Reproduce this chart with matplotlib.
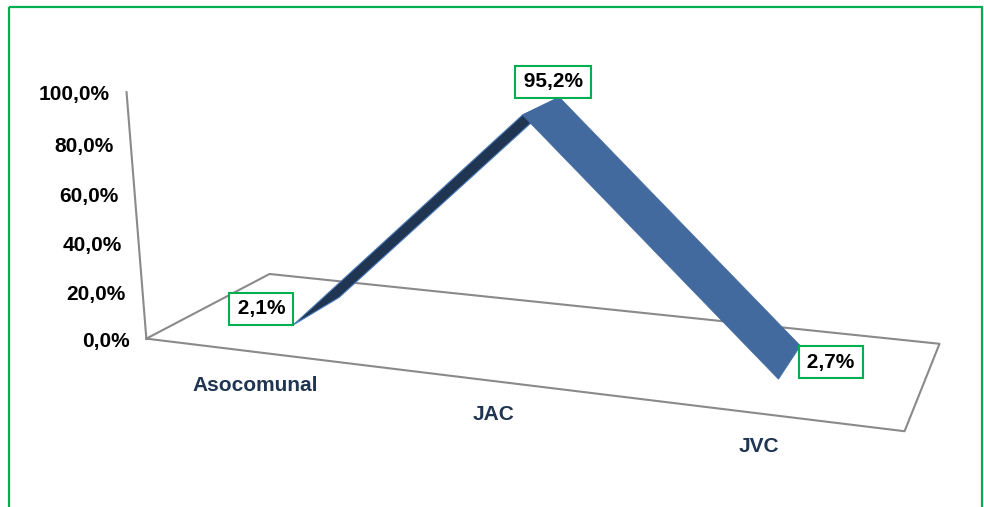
import numpy as np
import matplotlib
matplotlib.use("Agg")
import matplotlib.pyplot as plt
from matplotlib.patches import Rectangle

plt.rcParams['font.family'] = ['Liberation Sans', 'DejaVu Sans']

categorias = ["Asocomunal", "JAC", "JVC"]
valores = [2.1, 95.2, 2.7]
ticks = [0, 20, 40, 60, 80, 100]
etiquetas_ticks = ["0,0%", "20,0%", "40,0%", "60,0%", "80,0%", "100,0%"]
etiquetas_datos = ["2,1%", "95,2%", "2,7%"]

# camara de la vista 3D (angulos en grados, salida en pixeles)
azim = -19.8
elev = 18.2
distancia = 6.44
focal = 1614.0
centro = (541.0, 341.2)
profundidad = 1.01   # fondo del suelo
altura = 0.99        # altura del eje para 100%
cinta = (0.30, 0.71)  # la serie ocupa esta franja del fondo

AZUL = "#436a9f"
AZUL_OSCURO = "#1f3552"
GRIS = "#8a8a8a"
VERDE = "#00b050"


def proyectar(puntos):
    p = np.atleast_2d(np.asarray(puntos, float))
    a = np.radians(azim)
    e = np.radians(elev)
    px = p[:, 0] - len(categorias) / 2
    py = p[:, 1] * altura / 100
    pz = (p[:, 2] - 0.5) * profundidad
    x1 = px * np.cos(a) - pz * np.sin(a)
    z1 = px * np.sin(a) + pz * np.cos(a)
    y2 = py * np.cos(e) + z1 * np.sin(e)
    z2 = -py * np.sin(e) + z1 * np.cos(e)
    s = focal / (distancia + z2)
    return np.c_[centro[0] + x1 * s, centro[1] - y2 * s]


def area(q):
    x, y = q[:, 0], q[:, 1]
    return np.sum(x * np.roll(y, -1) - np.roll(x, -1) * y)


fig = plt.figure(figsize=(9.84, 5.07), dpi=100)
ax = fig.add_axes([0, 0, 1, 1])
ax.set_xlim(0, 984)
ax.set_ylim(507, 0)
ax.axis("off")

ax.add_patch(Rectangle((9, 7), 973, 530, fill=False, edgecolor=VERDE, lw=1.6))

n = len(categorias)
suelo = proyectar([[0, 0, 0], [n, 0, 0], [n, 0, 1], [0, 0, 1], [0, 0, 0]])
ax.plot(suelo[:, 0], suelo[:, 1], color=GRIS, lw=1.5, zorder=1)
eje = proyectar([[0, 0, 0], [0, ticks[-1], 0]])
ax.plot(eje[:, 0], eje[:, 1], color=GRIS, lw=1.5, zorder=1)

for t, txt in zip(ticks, etiquetas_ticks):
    p = proyectar([[0, t, 0]])[0]
    ax.annotate(txt, xy=p, xytext=(-12, -2), textcoords="offset points",
                ha="right", va="center", fontsize=15, fontweight="bold", color="black")

xs = np.arange(n) + 0.5
for i, cat in enumerate(categorias):
    p = proyectar([[xs[i], 0, 0]])[0]
    ax.annotate(cat, xy=p, xytext=(-1, -24), textcoords="offset points",
                ha="center", va="center", fontsize=15, fontweight="bold", color=AZUL_OSCURO)

# tramos de la cinta: la cara de abajo se ve mas oscura
for i in range(n - 1):
    q = proyectar([[xs[i], valores[i], cinta[0]], [xs[i + 1], valores[i + 1], cinta[0]],
                   [xs[i + 1], valores[i + 1], cinta[1]], [xs[i], valores[i], cinta[1]]])
    if area(q) > 0:
        ax.fill(q[:, 0], q[:, 1], facecolor=AZUL_OSCURO, edgecolor="#4f7fbd", lw=0.8, zorder=2)
    else:
        ax.fill(q[:, 0], q[:, 1], facecolor=AZUL, edgecolor=AZUL, lw=0.5, zorder=3)

desplaz = [(-40, 1.5), (8.6, 17.3), (29.5, 0)]
zm = (cinta[0] + cinta[1]) / 2
for i, txt in enumerate(etiquetas_datos):
    p = proyectar([[xs[i], valores[i], zm]])[0]
    ax.annotate("\u200a" + txt + "\u200a", xy=p, xytext=desplaz[i], textcoords="offset points",
                ha="center", va="center", fontsize=15, fontweight="bold", color="black",
                bbox=dict(boxstyle="square,pad=0.32", facecolor="white", edgecolor=VERDE, lw=1.5),
                zorder=5)

fig.savefig("out.png", dpi=100)
